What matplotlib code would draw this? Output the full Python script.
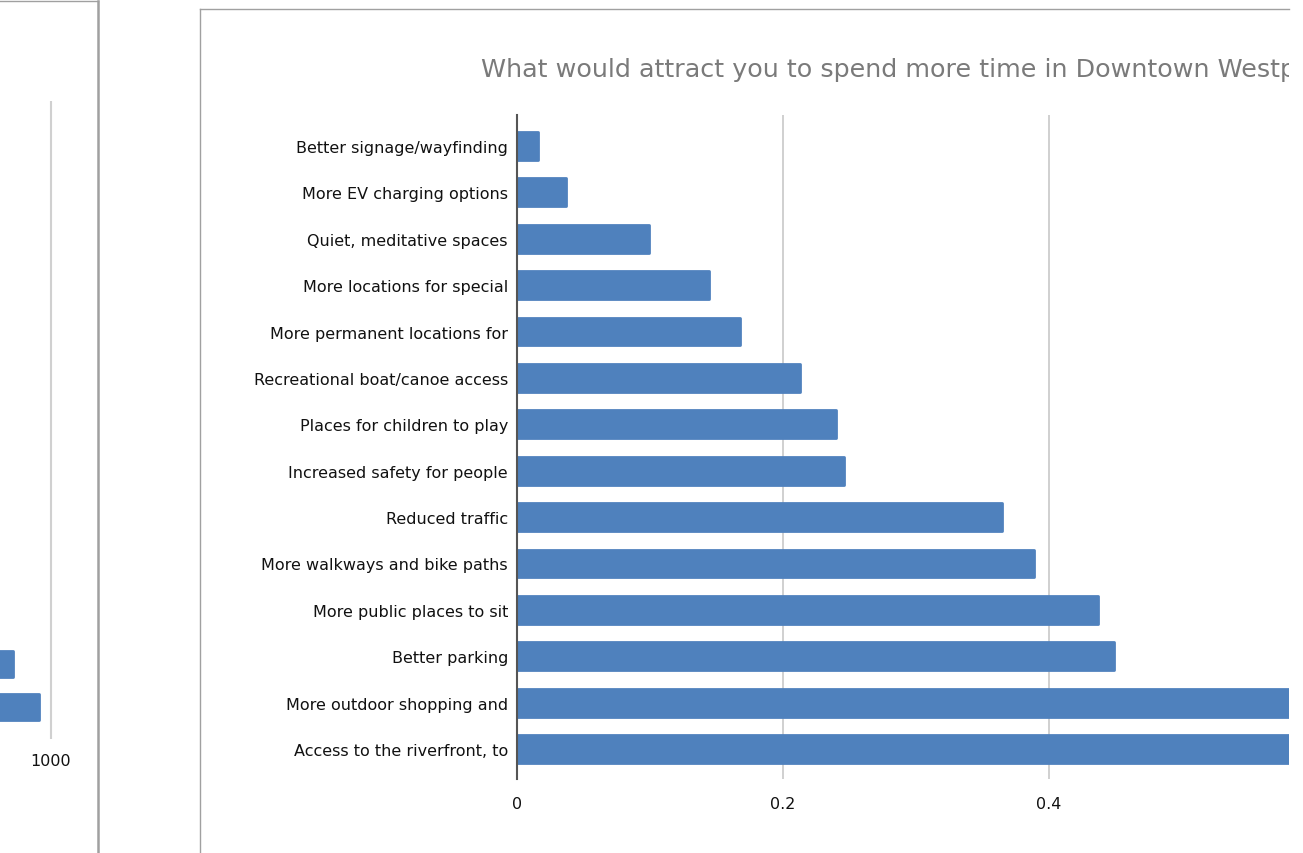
import matplotlib
matplotlib.use("Agg")
import matplotlib.pyplot as plt
from matplotlib.lines import Line2D
from matplotlib.patches import Rectangle

# ── Data ─────────────────────────────────────────────────────────────────────
answers = [
    "Better signage/wayfinding",
    "More EV charging options",
    "Quiet, meditative spaces",
    "More locations for special",
    "More permanent locations for",
    "Recreational boat/canoe access",
    "Places for children to play",
    "Increased safety for people",
    "Reduced traffic",
    "More walkways and bike paths",
    "More public places to sit",
    "Better parking",
    "More outdoor shopping and",
    "Access to the riverfront, to",
]
share = [0.016, 0.037, 0.099, 0.144, 0.168, 0.213, 0.240, 0.246,
         0.365, 0.389, 0.437, 0.449, 0.620, 0.660]
x_ticks = [0, 0.2, 0.4]
x_labels = ["0", "0.2", "0.4"]

# neighbouring chart (only its last two bars are visible)
left_counts = [941, 981]
left_ticks = [1000]

title = "What would attract you to spend more time in Downtown Westport?"

BLUE = "#4F81BD"
W, H = 1303, 854

plt.rcParams["font.family"] = "DejaVu Sans"
fig = plt.figure(figsize=(W / 100, H / 100), dpi=100)
fig.patch.set_facecolor("white")

def fx(px):
    return px / W

def fy(py):
    return 1 - py / H

# ── Main chart ───────────────────────────────────────────────────────────────
ax = fig.add_axes([fx(517), fy(780), fx(1289) - fx(517), fy(116) - fy(780)])
pos = list(range(len(answers)))
ax.barh(pos, share, height=0.6, color=BLUE, edgecolor=BLUE, linewidth=2,
        joinstyle="round", zorder=3)
ax.set_yticks(pos)
ax.set_yticklabels(answers, fontsize=11.5, color="#111111")
ax.set_xticks(x_ticks)
ax.set_xticklabels(x_labels, fontsize=11.5, color="#111111")
ax.set_xlim(0, (1289 - 517) / 1330)
ax.set_ylim(13 + 30 / 46.38, -31 / 46.38)
ax.tick_params(axis="y", length=0, pad=6.5)
ax.tick_params(axis="x", length=0, pad=12)
ax.grid(axis="x", color="#d0d0d0", linewidth=1.4, zorder=0)
for s in ["top", "right", "bottom"]:
    ax.spines[s].set_visible(False)
ax.spines["left"].set_color("#555555")
ax.spines["left"].set_linewidth(1.5)
ax.spines["left"].set_zorder(4)

fig.text(fx(481), fy(70), title, fontsize=18.25, color="#7a7a7a",
         ha="left", va="center")

# ── Neighbouring chart, cut at the left edge ─────────────────────────────────
axl = fig.add_axes([0, fy(740), fx(98), fy(102) - fy(740)])
axl.barh([0, 1], left_counts, height=0.6, color=BLUE, edgecolor=BLUE,
         linewidth=2, joinstyle="round", zorder=3)
axl.set_xticks(left_ticks)
axl.set_xticklabels([str(t) for t in left_ticks], fontsize=11.5, color="#111111")
axl.set_xlim(1000 - 51 / 0.65, 1000 + 47 / 0.65)
axl.set_ylim(1 + 32 / 43, -(665 - 102) / 43)
axl.set_yticks([])
axl.tick_params(axis="x", length=0, pad=10)
axl.grid(axis="x", color="#d0d0d0", linewidth=1.5, zorder=0)
for s in axl.spines.values():
    s.set_visible(False)

# ── Frames and right-edge cut ────────────────────────────────────────────────
fig.add_artist(Rectangle((fx(1289), 0), 1 - fx(1289), 1, transform=fig.transFigure,
                         facecolor="white", edgecolor="none", zorder=20))
fig.add_artist(Line2D([0, fx(98)], [fy(2), fy(2)], transform=fig.transFigure,
                      color="#a0a0a0", linewidth=1, zorder=21))
fig.add_artist(Line2D([fx(98), fx(98)], [fy(2), 0], transform=fig.transFigure,
                      color="#a0a0a0", linewidth=1.8, zorder=21))
fig.add_artist(Line2D([fx(200), fx(1289)], [fy(10), fy(10)], transform=fig.transFigure,
                      color="#a0a0a0", linewidth=1, zorder=21))
fig.add_artist(Line2D([fx(200), fx(200)], [fy(10), 0], transform=fig.transFigure,
                      color="#a0a0a0", linewidth=1, zorder=21))

fig.savefig("out.png", dpi=100, facecolor="white")
